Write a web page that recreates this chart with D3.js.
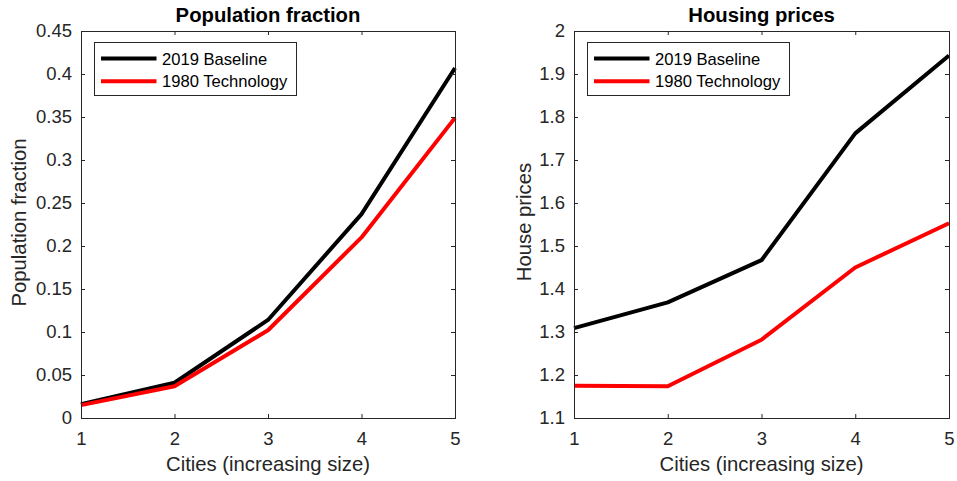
<!DOCTYPE html>
<html>
<head>
<meta charset="utf-8">
<script src="https://cdn.jsdelivr.net/npm/d3@7"></script>
<style>
  body { margin: 0; background: #fff; }
  text { font-family: "Liberation Sans", Arial, sans-serif; fill: #262626; }
</style>
</head>
<body>
<div id="chart"></div>
<script>
// Data
const cities = [1, 2, 3, 4, 5];
const seriesNames = ['2019 Baseline', '1980 Technology'];
const seriesColours = ['#000000', '#ff0000'];

const popBaseline = [0.016, 0.041, 0.114, 0.237, 0.407];
const popTech1980 = [0.015, 0.037, 0.102, 0.210, 0.349];
const popTicks = [0, 0.05, 0.1, 0.15, 0.2, 0.25, 0.3, 0.35, 0.4, 0.45];

const priceBaseline = [1.309, 1.369, 1.467, 1.762, 1.943];
const priceTech1980 = [1.175, 1.174, 1.282, 1.450, 1.553];
const priceTicks = [1.1, 1.2, 1.3, 1.4, 1.5, 1.6, 1.7, 1.8, 1.9, 2];

const width = 957;
const height = 481;
const plotTop = 31, plotBottom = 418;
const tickLen = 4;
const tickFont = 18.5, labelFont = 20.3, legendFont = 16.6;

const svg = d3.select('#chart').append('svg')
    .attr('width', width)
    .attr('height', height);

// One panel per subplot
const panels = [
    { title: 'Population fraction', ylabel: 'Population fraction', left: 81, right: 455,
      domain: [0, 0.45], ticks: popTicks, series: [popBaseline, popTech1980], ylabelX: 25.5, ylabelY: 222.5 },
    { title: 'Housing prices', ylabel: 'House prices', left: 574, right: 949,
      domain: [1.1, 2], ticks: priceTicks, series: [priceBaseline, priceTech1980], ylabelX: 530.5, ylabelY: 222 }
];

panels.forEach(p => {
    const x = d3.scaleLinear().domain([1, 5]).range([p.left, p.right]);
    const y = d3.scaleLinear().domain(p.domain).range([plotBottom, plotTop]);
    const g = svg.append('g');

    // lines
    const line = d3.line().x((d, i) => x(cities[i])).y(d => y(d));
    p.series.forEach((s, i) => {
        g.append('path')
            .attr('d', line(s))
            .attr('fill', 'none')
            .attr('stroke', seriesColours[i])
            .attr('stroke-width', 4)
            .attr('stroke-linejoin', 'round');
    });

    // axes (MATLAB style: ticks inward, box)
    const xAxis = d3.axisBottom(x).tickValues(cities).tickSize(-tickLen).tickPadding(14)
        .tickFormat(d3.format('d'));
    const xAxisTop = d3.axisTop(x).tickValues(cities).tickSize(-tickLen).tickFormat('');
    const yAxis = d3.axisLeft(y).tickValues(p.ticks).tickSize(-tickLen).tickPadding(9)
        .tickFormat(d => String(+d.toFixed(2)));
    const yAxisRight = d3.axisRight(y).tickValues(p.ticks).tickSize(-tickLen).tickFormat('');

    const axes = [
        g.append('g').attr('transform', `translate(0,${plotBottom})`).call(xAxis),
        g.append('g').attr('transform', `translate(0,${plotTop})`).call(xAxisTop),
        g.append('g').attr('transform', `translate(${p.left},0)`).call(yAxis),
        g.append('g').attr('transform', `translate(${p.right},0)`).call(yAxisRight)
    ];
    axes.forEach(a => {
        a.select('.domain').attr('stroke', '#262626').attr('stroke-width', 1);
        a.selectAll('.tick line').attr('stroke', '#262626');
        a.selectAll('.tick text').attr('font-size', tickFont)
            .attr('font-family', '"Liberation Sans", Arial, sans-serif').attr('fill', '#262626');
    });

    // title
    const cx = (p.left + p.right) / 2;
    g.append('text')
        .attr('x', cx).attr('y', 22)
        .attr('text-anchor', 'middle')
        .attr('font-size', labelFont).attr('font-weight', 'bold')
        .style('fill', '#000')
        .text(p.title);

    // axis labels
    g.append('text')
        .attr('x', cx).attr('y', 471)
        .attr('text-anchor', 'middle')
        .attr('font-size', labelFont)
        .text('Cities (increasing size)');
    g.append('text')
        .attr('transform', `translate(${p.ylabelX},${p.ylabelY}) rotate(-90)`)
        .attr('text-anchor', 'middle')
        .attr('font-size', labelFont)
        .text(p.ylabel);

    // legend
    const lx = p.left + 13.5, ly = 42.5;
    g.append('rect')
        .attr('x', lx).attr('y', ly)
        .attr('width', 202).attr('height', 53)
        .attr('fill', '#fff').attr('stroke', '#262626').attr('stroke-width', 1);
    seriesNames.forEach((name, i) => {
        const yy = ly + 16 + i * 22.7;
        g.append('line')
            .attr('x1', lx + 6.5).attr('x2', lx + 62)
            .attr('y1', yy).attr('y2', yy)
            .attr('stroke', seriesColours[i]).attr('stroke-width', 4);
        g.append('text')
            .attr('x', lx + 67.5).attr('y', yy + 6)
            .attr('font-size', legendFont)
            .style('fill', '#000')
            .text(name);
    });
});
</script>
</body>
</html>
